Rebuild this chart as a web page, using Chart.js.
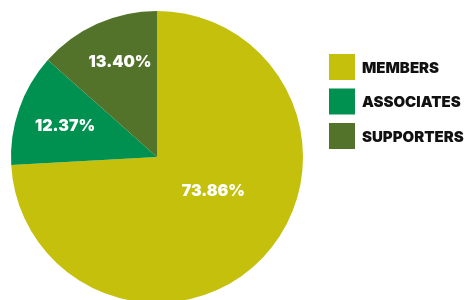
<!DOCTYPE html>
<html>
<head>
<meta charset="utf-8">
<script src="https://cdn.jsdelivr.net/npm/chart.js@4.4.1/dist/chart.umd.min.js"></script>
<style>
  html, body { margin: 0; padding: 0; background: #ffffff; overflow: hidden; }
  #wrap { width: 469px; height: 320px; }
</style>
</head>
<body>
<div id="wrap"><canvas id="c" width="469" height="320"></canvas></div>
<script>
const categories = ['MEMBERS', 'ASSOCIATES', 'SUPPORTERS'];
const shares = [73.86, 12.37, 13.40];
const valueLabels = ['73.86%', '12.37%', '13.40%'];
const sliceColors = ['#C4C00B', '#00904F', '#53732B'];

const FONT = 'Inter, "Open Sans", "DejaVu Sans", sans-serif';

// Draw value labels inside the slices, placed relative to each arc's geometry
const sliceLabels = {
  id: 'sliceLabels',
  afterDatasetsDraw(chart, args, opts) {
    const ctx = chart.ctx;
    const meta = chart.getDatasetMeta(0);
    ctx.save();
    ctx.fillStyle = opts.color;
    ctx.font = opts.font;
    ctx.textAlign = 'center';
    ctx.textBaseline = 'middle';
    meta.data.forEach((arc, i) => {
      const p = arc.getProps(['x', 'y', 'startAngle', 'endAngle', 'outerRadius'], true);
      const mid = (p.startAngle + p.endAngle) / 2 + (opts.angleShift[i] || 0) * Math.PI / 180;
      const r = p.outerRadius * opts.radial[i];
      ctx.fillText(valueLabels[i], p.x + Math.cos(mid) * r, p.y + Math.sin(mid) * r);
    });
    ctx.restore();
  }
};

// Legend drawn beside the pie
const sideLegend = {
  id: 'sideLegend',
  afterDraw(chart, args, opts) {
    const ctx = chart.ctx;
    const ds = chart.data.datasets[0];
    ctx.save();
    ctx.font = opts.font;
    ctx.textAlign = 'left';
    ctx.textBaseline = 'middle';
    chart.data.labels.forEach((lab, i) => {
      const y = opts.top + i * (opts.box + opts.gap);
      ctx.fillStyle = ds.backgroundColor[i];
      ctx.fillRect(opts.left, y, opts.box, opts.box);
      ctx.fillStyle = opts.color;
      ctx.fillText(lab, opts.left + opts.box + opts.textGap, y + opts.box / 2 + 1);
    });
    ctx.restore();
  }
};

new Chart(document.getElementById('c'), {
  type: 'pie',
  data: {
    labels: categories,
    datasets: [{
      data: shares,
      backgroundColor: sliceColors,
      borderWidth: 0,
      hoverOffset: 0
    }]
  },
  options: {
    responsive: false,
    animation: false,
    devicePixelRatio: 1,
    layout: { padding: { left: 10, top: 11, right: 165, bottom: 17 } },
    plugins: {
      legend: { display: false },
      tooltip: { enabled: false },
      sliceLabels: {
        color: '#ffffff',
        font: '900 16px ' + FONT,
        radial: [0.45, 0.665, 0.70],
        angleShift: [-12.5, -0.5, 3]
      },
      sideLegend: {
        left: 329, top: 54, box: 26, gap: 8.5, textGap: 7,
        color: '#111111',
        font: '900 15px ' + FONT
      }
    }
  },
  plugins: [sliceLabels, sideLegend]
});
</script>
</body>
</html>
